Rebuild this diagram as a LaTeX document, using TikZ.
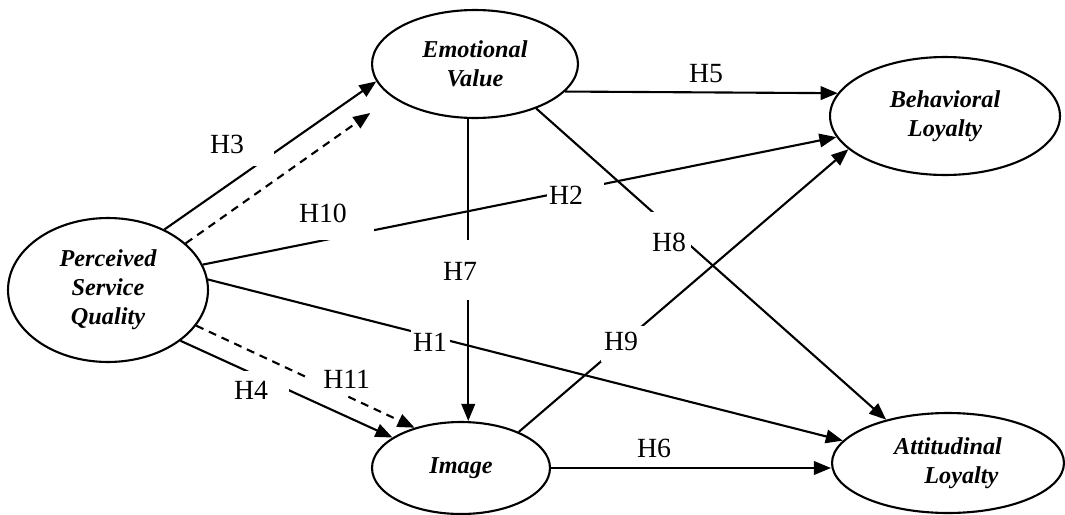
\documentclass[tikz,border=0pt]{standalone}
\usepackage{fontspec}
\setmainfont{Liberation Serif}
\usetikzlibrary{arrows.meta,shapes.geometric,calc}

\begin{document}
\begin{tikzpicture}[x=0.02cm,y=-0.02cm,line width=1.2pt]
	\tikzstyle{construct} = [draw,ellipse,inner sep=0pt,align=center,font=\fontsize{13.8}{16.4}\selectfont\bfseries\itshape]
	\tikzstyle{hpath} = [-{Triangle[length=0.34cm,width=0.27cm]}]
	\tikzstyle{hmed} = [hpath,dash pattern=on 0.16cm off 0.12cm]
	\tikzstyle{hyp} = [anchor=base west,inner ysep=0pt,inner xsep=0pt,font=\fontsize{15.8}{18}\selectfont]
	\tikzstyle{hbox} = [hyp,fill=white,align=left]
	\useasboundingbox (0,0) rectangle (1065,514);
	\node[construct,minimum width=4cm,minimum height=2.88cm] (psq) at (108,290) {Perceived\\Service\\Quality};
	\node[construct,minimum width=4.12cm,minimum height=2.16cm] (ev) at (475,64) {Emotional\\Value};
	\node[construct,minimum width=4.6cm,minimum height=2.36cm] (bl) at (945,116) {Behavioral\\Loyalty};
	\node[construct,minimum width=3.56cm,minimum height=1.84cm] (img) at (461,468) {Image};
	\node[construct,minimum width=4.64cm,minimum height=2cm] (al) at (948,463) {Attitudinal\\\hspace*{1.1em}Loyalty};
	\draw[hpath] (psq.47) -- (ev.190);
	\draw[hmed,shorten >=0.54cm] (psq.31) -- (ev.202);
	\draw[hpath] (psq.15) -- (bl.191);
	\draw[hpath] (psq.6) -- (al.168);
	\draw[hmed] (psq.-22) -- (img.139);
	\draw[hpath] (psq.-35) -- (img.156);
	\draw[hpath] (ev.-17) -- (bl.168);
	\draw[hpath] (ev.-97) -- (ev.-97 |- img.north);
	\draw[hpath] (ev.-36) -- (al.145);
	\draw[hpath] (img.32) -- (bl.199);
	\draw[hpath] (img.east) -- (img.east -| al.west);
	\node[hbox,inner xsep=0.08cm,text width=1.2cm,text height=0.56cm,text depth=0.26cm] (h3) at (205,153) {H3};
	\node[hbox,inner xsep=0.08cm,text width=1.42cm,text height=0.54cm,text depth=0.36cm] (h10) at (294,222) {H10};
	\node[hbox,inner xsep=0.04cm,text width=1.06cm,text height=0.48cm,text depth=0.12cm] (h2) at (546,204) {H2};
	\node[hbox,inner xsep=0.08cm,text width=0.68cm,text height=0.8cm,text depth=0.4cm] (h7) at (438,280) {H7};
	\node[hbox,inner xsep=0.04cm,text width=0.7cm,text height=0.52cm,text depth=0.1cm] (h1) at (410,351) {H1};
	\node[hbox,inner xsep=0.06cm,text width=0.72cm,text height=0.78cm,text depth=0.1cm] (h8) at (648,251) {H8};
	\node[hbox,inner xsep=0.06cm,text width=0.78cm,text height=0.48cm,text depth=0.24cm] (h9) at (600,350) {H9};
	\node[hbox,align=right,inner xsep=0.1cm,text width=1.14cm,text height=0.46cm,text depth=0.14cm] (h11) at (307,388) {H11};
	\node[hbox,inner xsep=0.08cm,text width=1.02cm,text height=0.56cm,text depth=0.12cm] (h4) at (229,399) {H4};
	\node[hyp] (h5) at (688,82) {H5};
	\node[hyp] (h6) at (636,457) {H6};
\end{tikzpicture}
\end{document}
